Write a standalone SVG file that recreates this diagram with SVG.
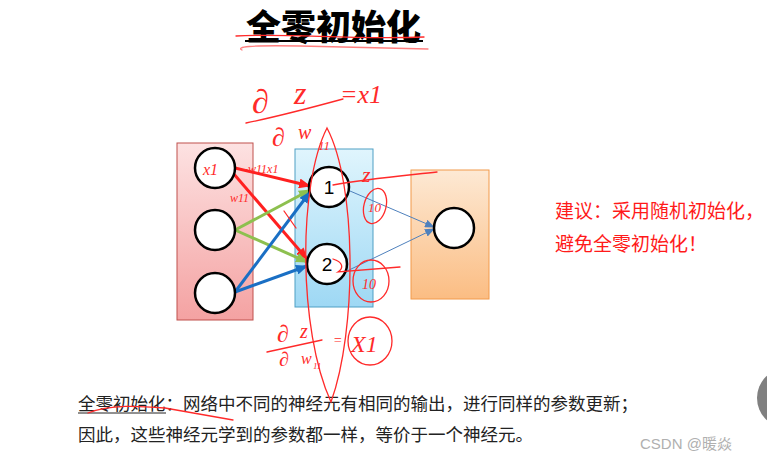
<svg xmlns="http://www.w3.org/2000/svg" width="767" height="462" viewBox="0 0 767 462">
<defs>
<linearGradient id="gPink" x1="0" y1="0" x2="0" y2="1"><stop offset="0" stop-color="#fde2e2"/><stop offset="1" stop-color="#f4a2a2"/></linearGradient>
<linearGradient id="gBlue" x1="0" y1="0" x2="0" y2="1"><stop offset="0" stop-color="#e0f5fd"/><stop offset="1" stop-color="#9ed8f4"/></linearGradient>
<linearGradient id="gOrange" x1="0" y1="0" x2="0" y2="1"><stop offset="0" stop-color="#fde9d4"/><stop offset="1" stop-color="#fbbd83"/></linearGradient>
<marker id="aRed" markerUnits="userSpaceOnUse" markerWidth="12" markerHeight="10" refX="11" refY="5" orient="auto"><path d="M0,0 L12,5 L0,10 Z" fill="#ff2020"/></marker>
<marker id="aGreen" markerUnits="userSpaceOnUse" markerWidth="12" markerHeight="10" refX="11" refY="5" orient="auto"><path d="M0,0 L12,5 L0,10 Z" fill="#8dc04f"/></marker>
<marker id="aBlue" markerUnits="userSpaceOnUse" markerWidth="12" markerHeight="10" refX="11" refY="5" orient="auto"><path d="M0,0 L12,5 L0,10 Z" fill="#1a6fc4"/></marker>
<marker id="aThin" markerUnits="userSpaceOnUse" markerWidth="10" markerHeight="8" refX="9" refY="4" orient="auto"><path d="M0,0 L10,4 L0,8 Z" fill="#4f81bd"/></marker>
</defs>
<style>
.node{fill:#fff;stroke:#000;stroke-width:2.5}
.cjk{font-family:"Noto Sans CJK SC","Noto Sans",sans-serif}
.hand{fill:#ff2a2a;font-family:"Liberation Serif",serif;font-style:italic}
.ink{fill:none;stroke:#ff2a2a;stroke-width:1.3;stroke-linecap:round}
.thick{fill:none;stroke-width:3}
</style>
<rect width="767" height="462" fill="#fff"/>

<g id="title">
<text x="246" y="40" class="cjk" font-size="35" font-weight="900" fill="#000">全零初始化</text>
<line x1="245" y1="41" x2="423" y2="41" stroke="#000" stroke-width="2"/>
</g>

<g id="layer-input"><rect x="177" y="143" width="76" height="177" fill="url(#gPink)" stroke="#c0504d" stroke-width="1"/></g>
<g id="layer-hidden"><rect x="295" y="149" width="78" height="158" fill="url(#gBlue)" stroke="#4f9fc4" stroke-width="1"/></g>
<g id="layer-output"><rect x="411" y="170" width="78" height="129" fill="url(#gOrange)" stroke="#f29a4a" stroke-width="1"/></g>

<g id="connectors">
<line class="thick" x1="235" y1="168" x2="310" y2="186" stroke="#ff2020" marker-end="url(#aRed)"/>
<line class="thick" x1="233" y1="173" x2="307" y2="259" stroke="#ff2020" marker-end="url(#aRed)"/>
<line class="thick" x1="235" y1="230" x2="310" y2="190" stroke="#8dc04f" marker-end="url(#aGreen)"/>
<line class="thick" x1="235" y1="230" x2="307" y2="262" stroke="#8dc04f" marker-end="url(#aGreen)"/>
<line class="thick" x1="235" y1="292" x2="310" y2="192" stroke="#1a6fc4" marker-end="url(#aBlue)"/>
<line class="thick" x1="235" y1="292" x2="307" y2="266" stroke="#1a6fc4" marker-end="url(#aBlue)"/>
<line x1="350" y1="191" x2="434" y2="227" stroke="#4f81bd" stroke-width="1" marker-end="url(#aThin)"/>
<line x1="347" y1="271" x2="434" y2="229" stroke="#4f81bd" stroke-width="1" marker-end="url(#aThin)"/>
</g>

<g id="x1"><circle class="node" cx="215" cy="168" r="20"/></g>
<g id="x2"><circle class="node" cx="215" cy="230" r="20"/></g>
<g id="x3"><circle class="node" cx="215" cy="293" r="20"/></g>
<g id="h1"><circle class="node" cx="329" cy="187" r="20"/><text x="329" y="194" text-anchor="middle" font-family="Liberation Sans,sans-serif" font-size="19" fill="#000">1</text></g>
<g id="h2"><circle class="node" cx="327" cy="264" r="20"/><text x="327" y="271" text-anchor="middle" font-family="Liberation Sans,sans-serif" font-size="19" fill="#000">2</text></g>
<g id="out"><circle class="node" cx="454" cy="228" r="20"/></g>

<g id="advice" class="cjk" font-size="19" fill="#ff1a1a">
<text x="555" y="218">建议：采用随机初始化，</text>
<text x="555" y="251">避免全零初始化！</text>
</g>

<g id="caption" class="cjk" font-size="17.5" fill="#222">
<text x="78" y="410">全零初始化：网络中不同的神经元有相同的输出，进行同样的参数更新；</text>
<line x1="78" y1="413" x2="166" y2="413" stroke="#222" stroke-width="1"/>
<text x="78" y="441">因此，这些神经元学到的参数都一样，等价于一个神经元。</text>
</g>

<g id="watermark">
<text x="640" y="449" font-family="Liberation Sans,'Noto Sans CJK SC',sans-serif" font-size="15" fill="#b0b0b0">CSDN @暖焱</text>
<circle cx="787" cy="398" r="30" fill="#808080"/>
</g>

<g id="annotations">
<path class="ink" d="M236,36 C290,33 350,40 424,37"/>
<path class="ink" stroke-width="0.8" stroke-opacity="0.6" d="M242,50 C236,47 248,45 300,46 L428,49"/>
<text class="hand" x="252" y="113" font-size="34">∂</text>
<text class="hand" x="294" y="104" font-size="32">z</text>
<text class="hand" x="340" y="103" font-size="26">=x1</text>
<path class="ink" d="M246,123 C280,116 310,108 343,99"/>
<text class="hand" x="272" y="146" font-size="26">∂</text>
<text class="hand" x="298" y="139" font-size="20">w</text>
<text class="hand" x="318" y="150" font-size="13">11</text>
<path class="ink" d="M327,128 C298,185 298,330 331,402 C357,330 357,185 327,128 Z"/>
<text class="hand" x="203" y="175" font-size="16">x1</text>
<text class="hand" x="244" y="173" font-size="12">-w11x1</text>
<text class="hand" x="230" y="202" font-size="12">w11</text>
<path class="ink" d="M333,185 C365,179 400,176 437,172"/>
<text class="hand" x="362" y="182" font-size="22">z</text>
<ellipse class="ink" cx="375" cy="206" rx="11" ry="18" transform="rotate(15 375 206)"/>
<text class="hand" x="368" y="212" font-size="13">10</text>
<path class="ink" d="M333,259 C343,262 344,268 338,272 L400,267"/>
<ellipse class="ink" cx="371" cy="281" rx="18" ry="21"/>
<text class="hand" x="362" y="289" font-size="14">10</text>
<path class="ink" d="M284,211 L296,228"/>
<text class="hand" x="277" y="342" font-size="24">∂</text>
<text class="hand" x="300" y="338" font-size="20">z</text>
<path class="ink" d="M267,352 L322,340"/>
<text class="hand" x="279" y="366" font-size="20">∂</text>
<text class="hand" x="301" y="364" font-size="16">w</text>
<text class="hand" x="313" y="369" font-size="9">11</text>
<text class="hand" x="333" y="345" font-size="14">=</text>
<text class="hand" x="351" y="352" font-size="24">X1</text>
<ellipse class="ink" cx="370" cy="341" rx="22" ry="24"/>
<path class="ink" d="M88,413 C110,404 140,406 165,408 L233,420"/>
</g>
</svg>
